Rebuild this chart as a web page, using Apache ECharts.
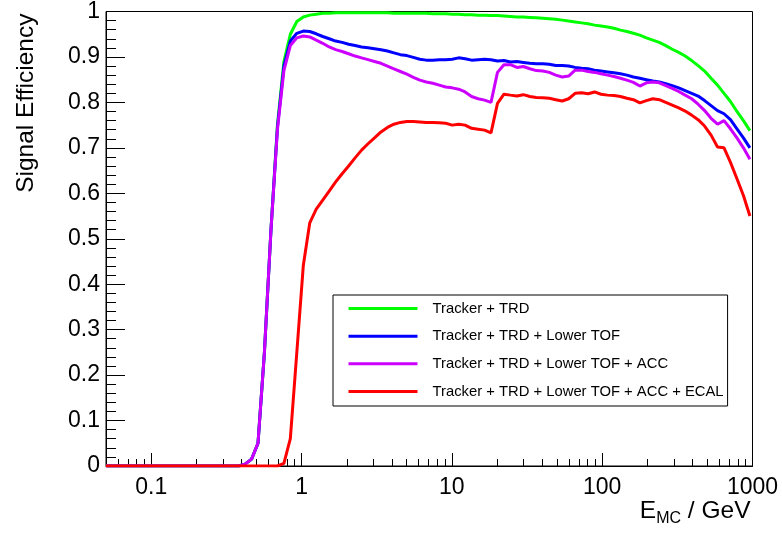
<!DOCTYPE html>
<html><head><meta charset="utf-8">
<script src="https://cdn.jsdelivr.net/npm/echarts@6/dist/echarts.min.js"></script>
<style>html,body{margin:0;padding:0;background:#fff}#c{width:782px;height:535px}</style>
</head><body><div id="c"></div>
<script>
// Energy bins (GeV)
const energy = [0.05, 0.345, 0.381, 0.421, 0.465, 0.513, 0.566, 0.626, 0.691, 0.763, 0.842, 0.930, 1.027, 1.134, 1.252, 1.383, 1.527, 1.686, 1.862, 2.056, 2.270, 2.507, 2.768, 3.057, 3.375, 3.727, 4.115, 4.544, 5.018, 5.541, 6.119, 6.756, 7.461, 8.238, 9.097, 10.05, 11.09, 12.25, 13.52, 14.94, 16.50, 18.21, 20.11, 22.21, 24.52, 27.08, 29.90, 33.02, 36.46, 40.26, 44.46, 49.09, 54.20, 59.84, 66.08, 72.97, 80.57, 88.97, 98.24, 108.5, 119.8, 132.3, 146.0, 161.3, 178.1, 196.7, 217.2, 239.8, 264.8, 292.4, 322.9, 356.5, 393.7, 434.7, 480.0, 530.1, 585.3, 646.3, 713.6, 788.0, 870.2, 960.9];

const effTrackerTrd = [0, 0, 0, 0.004, 0.015, 0.05, 0.25, 0.52, 0.75, 0.89, 0.95, 0.978, 0.988, 0.992, 0.994, 0.996, 0.996, 0.997, 0.997, 0.997, 0.997, 0.997, 0.997, 0.997, 0.997, 0.997, 0.996, 0.996, 0.996, 0.996, 0.996, 0.996, 0.995, 0.995, 0.995, 0.994, 0.994, 0.993, 0.993, 0.992, 0.992, 0.991, 0.991, 0.990, 0.989, 0.988, 0.988, 0.987, 0.986, 0.985, 0.984, 0.983, 0.981, 0.979, 0.977, 0.975, 0.973, 0.970, 0.968, 0.966, 0.963, 0.959, 0.956, 0.952, 0.948, 0.942, 0.937, 0.932, 0.925, 0.917, 0.910, 0.902, 0.892, 0.881, 0.869, 0.853, 0.838, 0.820, 0.802, 0.780, 0.760, 0.738];

const effLowerTof = [0, 0, 0, 0.004, 0.015, 0.05, 0.25, 0.52, 0.745, 0.88, 0.935, 0.952, 0.957, 0.956, 0.951, 0.945, 0.940, 0.935, 0.932, 0.928, 0.925, 0.922, 0.920, 0.918, 0.916, 0.913, 0.909, 0.905, 0.903, 0.899, 0.895, 0.893, 0.893, 0.894, 0.894, 0.895, 0.898, 0.896, 0.893, 0.894, 0.895, 0.894, 0.891, 0.892, 0.889, 0.890, 0.888, 0.886, 0.885, 0.885, 0.884, 0.881, 0.881, 0.880, 0.877, 0.875, 0.874, 0.871, 0.869, 0.867, 0.865, 0.863, 0.860, 0.856, 0.853, 0.850, 0.847, 0.845, 0.841, 0.837, 0.832, 0.826, 0.820, 0.814, 0.804, 0.793, 0.782, 0.775, 0.762, 0.742, 0.722, 0.700];

const effAcc = [0, 0, 0, 0.004, 0.015, 0.05, 0.25, 0.52, 0.74, 0.87, 0.925, 0.942, 0.946, 0.944, 0.937, 0.930, 0.922, 0.916, 0.912, 0.907, 0.902, 0.898, 0.894, 0.890, 0.886, 0.880, 0.874, 0.868, 0.862, 0.855, 0.849, 0.845, 0.842, 0.838, 0.834, 0.832, 0.829, 0.823, 0.813, 0.808, 0.805, 0.800, 0.866, 0.883, 0.883, 0.877, 0.879, 0.874, 0.870, 0.869, 0.866, 0.860, 0.856, 0.858, 0.871, 0.871, 0.868, 0.866, 0.863, 0.860, 0.857, 0.853, 0.849, 0.844, 0.836, 0.843, 0.845, 0.843, 0.837, 0.831, 0.824, 0.816, 0.808, 0.796, 0.782, 0.765, 0.752, 0.760, 0.742, 0.722, 0.700, 0.675];

const effEcal = [0, 0, 0, 0, 0, 0, 0, 0, 0, 0.006, 0.06, 0.25, 0.441, 0.535, 0.565, 0.585, 0.605, 0.625, 0.643, 0.660, 0.678, 0.695, 0.709, 0.722, 0.735, 0.745, 0.752, 0.756, 0.758, 0.758, 0.757, 0.756, 0.756, 0.755, 0.754, 0.750, 0.752, 0.750, 0.743, 0.741, 0.739, 0.733, 0.798, 0.818, 0.816, 0.814, 0.817, 0.813, 0.811, 0.810, 0.809, 0.806, 0.803, 0.808, 0.820, 0.821, 0.819, 0.823, 0.818, 0.816, 0.815, 0.813, 0.809, 0.806, 0.799, 0.804, 0.808, 0.806, 0.800, 0.794, 0.788, 0.781, 0.772, 0.762, 0.748, 0.728, 0.702, 0.700, 0.668, 0.632, 0.595, 0.550];

const seriesNames = ['Tracker + TRD', 'Tracker + TRD + Lower TOF', 'Tracker + TRD + Lower TOF + ACC', 'Tracker + TRD + Lower TOF + ACC + ECAL'];
const seriesColors = ['#00ff00', '#0000ff', '#cc00ff', '#ff0000'];
const xMajorTicks = [0.1, 1, 10, 100, 1000];
const xTickLabels = ['0.1', '1', '10', '100', '1000'];
const xMinorTicks = [0.05, 0.06, 0.07, 0.08, 0.09, 0.2, 0.3, 0.4, 0.5, 0.6, 0.7, 0.8, 0.9, 2, 3, 4, 5, 6, 7, 8, 9, 20, 30, 40, 50, 60, 70, 80, 90, 200, 300, 400, 500, 600, 700, 800, 900];
const xRange = [0.05, 1000];

const lg = Math.log10;
const FONT = "'Liberation Sans', Arial, Helvetica, sans-serif";
const allEff = [effTrackerTrd, effLowerTof, effAcc, effEcal];

const chart = echarts.init(document.getElementById('c'), null, {renderer: 'canvas'});
const xMin = lg(xRange[0]), xMax = lg(xRange[1]);

chart.setOption({
  animation: false,
  backgroundColor: '#fff',
  textStyle: {fontFamily: FONT},
  grid: {left: 106, right: 29.5, top: 10, bottom: 69, show: true, borderColor: '#000', borderWidth: 1, backgroundColor: 'transparent'},
  legend: {
    orient: 'vertical', left: 333, top: 295,
    data: seriesNames,
    itemWidth: 69, itemHeight: 14, itemGap: 12.67,
    padding: [6, 4, 7, 14],
    borderColor: '#000', borderWidth: 1, backgroundColor: '#fff',
    selectedMode: false,
    itemStyle: {opacity: 0},
    lineStyle: {width: 3},
    textStyle: {fontSize: 14.8, color: '#000', fontFamily: FONT, padding: [0, 0, 0, 10], lineHeight: 14}
  },
  xAxis: [{
    type: 'value', min: xMin, max: xMax, position: 'bottom',
    axisLine: {show: true, onZero: false, lineStyle: {color: '#000', width: 1}},
    axisTick: {show: true, inside: true, length: 13, customValues: xMajorTicks.map(lg), lineStyle: {color: '#000', width: 1}},
    axisLabel: {
      customValues: xMajorTicks.map(lg), fontSize: 23, color: '#000', margin: 10, fontFamily: FONT,
      formatter: function (v) {
        const i = xMajorTicks.findIndex(t => Math.abs(lg(t) - v) < 1e-6);
        return i >= 0 ? xTickLabels[i] : '';
      }
    },
    splitLine: {show: false},
    name: '{b|E}{s|MC}{b| / GeV}',
    nameLocation: 'end', nameGap: -2, nameMoveOverlap: false,
    nameTextStyle: {
      align: 'right', verticalAlign: 'top', padding: [30, 0, 0, 0], color: '#000',
      rich: {
        b: {fontSize: 24.5, fontFamily: FONT, color: '#000', lineHeight: 31, verticalAlign: 'middle'},
        s: {fontSize: 16, fontFamily: FONT, color: '#000', lineHeight: 17, verticalAlign: 'bottom'}
      }
    }
  }, {
    type: 'value', min: xMin, max: xMax, position: 'bottom',
    axisLine: {show: false, onZero: false},
    axisTick: {show: true, inside: true, length: 7, customValues: xMinorTicks.map(lg), lineStyle: {color: '#000', width: 1}},
    axisLabel: {show: false},
    splitLine: {show: false}
  }],
  yAxis: {
    type: 'value', min: 0, max: 1, interval: 0.1,
    axisLine: {show: true, onZero: false, lineStyle: {color: '#000', width: 1}},
    axisTick: {show: true, inside: true, length: 19, lineStyle: {color: '#000', width: 1}},
    minorTick: {show: true, splitNumber: 5, length: 10, lineStyle: {color: '#000', width: 1}},
    axisLabel: {fontSize: 23, color: '#000', margin: 6, fontFamily: FONT},
    splitLine: {show: false},
    minorSplitLine: {show: false},
    name: 'Signal Efficiency',
    nameLocation: 'end', nameRotate: 90, nameGap: -2, nameMoveOverlap: false,
    nameTextStyle: {fontSize: 24.5, color: '#000', fontFamily: FONT, align: 'right', verticalAlign: 'bottom', padding: [0, 0, 67, 0]}
  },
  series: seriesNames.map((name, si) => ({
    name: name,
    type: 'line',
    xAxisIndex: 0,
    data: energy.map((e, i) => [lg(e), allEff[si][i]]),
    symbol: 'none',
    smooth: false,
    lineStyle: {color: seriesColors[si], width: 3},
    itemStyle: {color: seriesColors[si]},
    emphasis: {disabled: true}
  }))
});
</script>
</body></html>
